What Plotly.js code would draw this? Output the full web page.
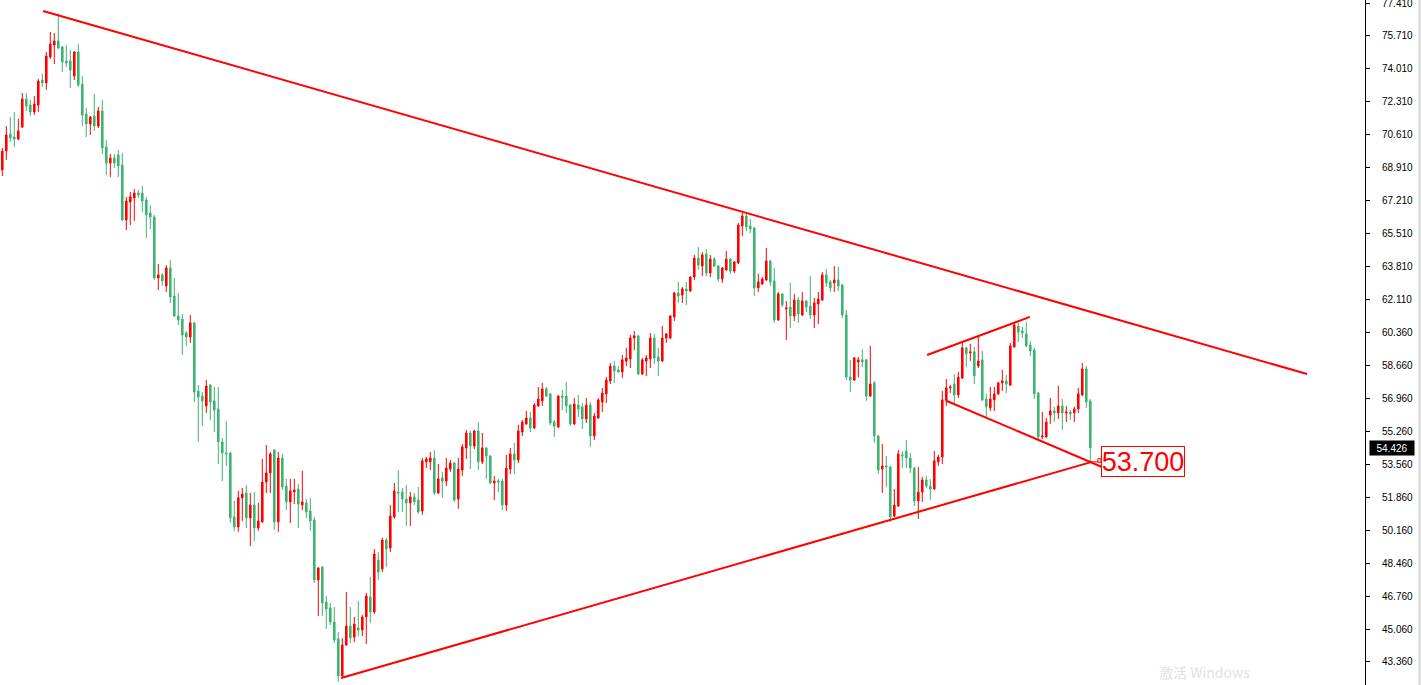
<!DOCTYPE html>
<html>
<head>
<meta charset="utf-8">
<script src="https://cdn.plot.ly/plotly-3.0.1.min.js"></script>
<style>
  html, body { margin: 0; padding: 0; background: #fff; }
  #chart { width: 1421px; height: 685px; }
</style>
</head>
<body>
<div id="chart"></div>
<script>
// Daily OHLC bars, oldest first
const openPrices = [
  68.78,69.76,70.64,70.49,70.38,71.00,72.45,72.14,71.78,72.14,
  73.43,73.28,74.62,75.24,75.45,75.14,74.41,74.41,73.64,74.88,
  73.22,71.67,71.16,71.57,71.05,71.83,69.97,69.14,69.40,69.56,
  69.04,66.20,67.13,67.34,67.59,67.59,67.23,66.56,66.35,63.20,
  63.36,62.79,63.72,62.27,61.24,61.08,60.36,60.15,60.88,57.36,
  57.10,56.59,57.67,56.85,56.43,54.73,54.16,54.16,50.85,50.34,
  51.84,52.09,50.80,51.47,50.28,50.60,52.66,53.13,54.31,50.60,
  53.90,52.45,51.63,52.14,52.30,51.47,51.58,51.16,50.70,47.60,
  48.27,46.46,46.15,45.43,44.55,42.64,44.24,45.22,44.65,45.12,
  45.01,45.69,46.72,45.94,48.63,48.17,49.66,49.25,50.85,52.14,
  52.14,51.78,51.58,51.89,51.73,51.16,53.70,53.70,53.90,52.09,
  52.87,52.71,53.33,53.64,51.78,53.28,54.42,55.19,54.52,55.30,
  53.70,54.42,54.00,52.61,52.71,52.71,51.47,53.33,54.11,53.80,
  55.24,55.66,55.97,55.45,56.59,56.85,57.47,57.21,55.76,55.50,
  57.10,57.10,56.64,55.66,56.64,56.54,55.92,56.64,55.04,55.97,
  56.79,57.21,57.88,58.65,58.45,58.35,58.91,59.02,60.10,60.21,
  58.24,58.91,59.02,60.10,59.12,58.91,60.10,60.10,61.19,62.43,
  62.32,62.63,62.53,63.25,64.23,63.82,64.44,63.46,64.18,63.82,
  63.15,63.62,64.18,63.56,63.98,65.89,66.41,65.89,65.78,62.69,
  62.89,63.10,64.08,63.05,61.03,62.38,61.60,61.70,61.24,62.06,
  61.29,62.01,61.75,61.29,61.86,62.06,63.36,63.00,62.95,63.10,
  62.84,61.29,58.08,57.93,58.86,58.97,58.97,57.10,57.78,55.04,
  53.33,53.49,53.44,50.90,51.42,54.06,54.26,53.90,53.38,51.68,
  52.14,52.76,52.45,52.30,53.70,53.95,56.90,57.52,57.72,57.16,
  58.03,59.59,59.33,59.38,58.65,58.97,56.95,56.49,56.90,57.21,
  57.78,57.88,57.67,59.64,60.72,60.46,60.31,59.74,59.48,57.26,
  54.99,54.99,56.12,56.33,56.23,56.59,56.23,56.28,56.23,56.43,
  57.16,58.50,56.85
];
const highPrices = [
  69.92,71.05,71.52,71.78,71.42,72.76,72.76,72.40,72.60,73.48,
  73.74,74.88,75.91,75.86,76.89,75.19,75.24,74.98,74.93,75.29,
  73.64,71.98,71.57,72.71,72.04,72.40,70.33,69.61,69.61,69.82,
  69.66,67.39,67.65,67.80,67.75,67.96,67.39,66.97,66.46,63.92,
  63.46,63.87,64.13,63.20,62.43,61.34,60.46,61.29,60.93,57.67,
  57.31,57.93,57.72,57.57,57.57,54.93,55.81,54.21,51.68,52.20,
  52.35,52.51,52.09,52.14,51.58,53.85,54.57,54.21,54.36,54.21,
  54.11,52.82,52.82,52.82,52.56,53.23,51.78,51.84,50.85,48.25,
  48.32,46.77,46.41,46.20,44.91,44.60,46.98,46.20,45.69,46.51,
  45.79,46.93,47.75,49.20,49.04,49.77,49.77,51.47,52.61,53.28,
  52.35,52.51,52.14,52.09,52.40,53.90,53.95,54.21,54.31,53.59,
  53.18,53.90,53.80,53.70,53.90,54.62,55.35,55.30,55.35,55.76,
  55.19,54.47,54.06,52.97,52.82,52.82,54.06,54.42,54.68,55.61,
  55.86,56.33,56.28,56.74,57.57,57.78,57.57,57.26,55.86,57.16,
  57.42,57.83,56.69,57.00,57.16,56.74,57.00,56.79,56.23,57.00,
  57.52,58.09,58.81,58.91,58.65,59.22,59.59,60.26,60.46,60.26,
  59.07,59.22,60.36,60.31,59.59,60.72,60.36,61.29,62.48,63.00,
  62.74,63.00,63.30,64.39,64.80,64.54,64.70,64.39,64.28,63.87,
  63.77,64.60,64.23,64.08,66.04,66.56,66.51,66.25,65.84,63.41,
  63.25,64.75,64.13,63.72,62.48,62.43,62.01,62.95,62.38,62.22,
  62.48,62.06,63.30,62.17,62.48,63.51,63.67,63.10,63.82,63.77,
  62.89,61.55,58.97,59.12,59.12,59.53,59.02,59.69,57.88,55.09,
  54.62,54.00,53.49,52.30,54.31,54.26,54.83,54.16,53.44,53.44,
  52.92,52.97,52.82,54.26,54.06,57.36,57.98,57.67,58.24,58.35,
  59.90,59.64,59.79,59.64,60.21,59.43,57.21,57.57,57.57,57.83,
  58.45,58.19,59.84,60.88,60.88,60.67,60.93,59.95,59.59,57.31,
  56.28,55.97,57.00,56.54,57.62,56.95,56.59,56.38,56.54,57.52,
  58.81,58.65,56.95
];
const lowPrices = [
  68.47,69.30,70.23,69.97,70.33,70.95,71.83,71.57,71.62,71.78,
  73.07,72.92,74.52,74.26,75.03,73.85,74.10,73.02,73.43,73.07,
  71.05,70.49,70.59,70.80,70.95,69.61,68.52,68.42,68.89,68.42,
  66.15,65.68,65.94,66.15,67.34,66.61,65.27,65.73,63.10,62.58,
  62.79,62.48,61.91,61.19,60.77,59.22,59.69,59.84,56.79,54.73,
  55.55,56.23,55.86,55.24,53.59,52.71,53.49,50.54,50.13,50.08,
  50.65,50.28,49.35,49.61,50.13,50.54,52.09,52.09,50.18,50.08,
  52.25,51.21,50.54,51.52,50.28,51.21,50.80,50.13,47.44,45.74,
  45.74,45.07,45.27,44.34,42.35,42.53,44.19,44.34,44.39,44.70,
  44.70,44.29,45.38,45.84,47.60,48.01,48.27,49.04,50.75,51.11,
  51.11,50.39,50.39,51.47,51.01,50.96,53.38,53.28,51.99,52.04,
  51.84,52.45,53.18,51.63,51.27,52.97,53.85,53.33,54.36,53.28,
  53.59,52.82,52.56,51.73,52.14,51.21,51.16,53.07,53.07,53.64,
  55.04,55.61,55.24,55.40,56.54,56.59,57.05,55.61,54.99,55.45,
  56.38,56.23,55.55,55.61,56.02,55.40,55.71,54.47,54.83,55.92,
  56.28,56.74,57.72,57.78,58.29,58.03,58.65,58.55,59.48,58.19,
  58.19,58.13,58.55,58.76,58.13,58.86,59.84,60.05,60.98,61.91,
  61.91,61.81,62.48,63.10,63.62,63.30,63.30,63.25,63.77,63.00,
  62.95,63.56,63.41,63.46,63.92,65.37,65.63,65.53,62.27,62.48,
  62.84,63.05,62.79,60.88,60.98,61.70,60.00,60.62,60.98,60.88,
  61.24,61.44,61.08,60.62,60.82,62.01,62.74,62.48,62.48,62.53,
  61.14,57.93,57.31,57.88,58.08,58.60,56.85,57.05,54.68,53.07,
  52.09,52.40,50.60,50.85,51.37,53.38,53.38,53.13,51.42,50.75,
  51.63,52.35,51.73,52.25,53.49,53.59,56.59,57.26,56.74,57.00,
  57.98,58.60,58.91,57.72,58.55,56.85,56.02,56.33,56.33,57.16,
  57.36,57.26,57.62,59.59,59.90,60.10,59.64,59.17,56.95,54.88,
  54.88,54.93,55.66,55.76,55.92,55.35,55.76,55.86,55.76,56.23,
  57.10,56.49,53.70
];
const closePrices = [
  69.76,70.59,70.44,70.38,70.80,72.45,72.09,71.78,72.19,73.38,
  73.28,74.67,75.29,75.45,75.08,74.36,74.31,73.95,74.88,73.17,
  71.62,71.16,71.52,71.05,71.83,69.92,69.14,69.40,69.14,68.99,
  66.20,67.18,67.39,67.59,67.49,67.18,66.46,66.35,63.20,63.36,
  63.05,63.72,62.22,61.24,61.03,60.26,60.15,60.88,57.31,57.05,
  56.85,57.62,56.79,56.38,54.73,54.16,54.11,50.80,50.34,51.84,
  52.04,50.80,51.47,50.28,50.65,52.66,53.13,54.11,50.60,53.90,
  52.40,51.63,52.20,52.25,51.52,51.63,51.11,50.65,47.60,48.22,
  46.41,46.10,45.43,44.50,42.64,44.24,45.22,44.60,45.32,45.01,
  45.69,46.77,45.94,48.94,48.01,49.66,49.20,50.90,52.20,52.09,
  51.78,51.58,51.89,51.63,51.11,53.75,53.85,53.90,52.09,52.82,
  52.71,53.38,53.64,51.73,53.33,54.47,55.19,54.52,55.30,53.70,
  54.42,54.00,52.61,52.71,52.66,51.47,53.38,54.11,53.80,55.30,
  55.76,55.97,55.45,56.64,56.95,57.47,57.10,55.71,55.55,57.10,
  57.05,56.59,55.66,56.69,56.43,55.92,56.64,55.04,56.07,56.90,
  57.26,57.93,58.65,58.40,58.35,58.97,59.07,60.10,60.21,58.24,
  58.97,59.07,60.10,59.07,58.91,60.10,60.31,61.24,62.43,62.27,
  62.63,62.53,63.25,64.23,63.87,64.39,63.46,64.18,63.82,63.15,
  63.72,64.18,63.56,64.03,65.94,66.41,65.84,65.73,62.69,63.00,
  63.15,64.08,63.00,61.03,62.38,61.81,61.65,61.24,62.06,61.34,
  62.01,61.70,61.29,61.91,62.12,63.36,62.95,62.69,63.10,62.79,
  61.29,58.08,57.93,59.07,58.97,58.86,57.10,57.72,55.04,53.28,
  53.49,53.44,50.85,51.47,54.11,54.00,53.90,53.38,51.68,52.14,
  52.76,52.45,52.30,53.75,53.95,56.90,57.52,57.57,57.16,58.08,
  59.59,59.28,59.38,58.14,58.91,56.90,56.54,56.95,57.21,57.78,
  57.88,57.72,59.69,60.77,60.41,60.36,59.69,59.43,57.21,54.99,
  55.04,55.76,56.33,56.23,56.59,56.23,56.28,56.18,56.43,57.21,
  58.50,56.79,54.426
];

// Price scale labels on the right axis
const tickValues = [77.41,75.71,74.01,72.31,70.61,68.91,67.21,65.51,63.81,62.11,60.36,
                    58.66,56.96,55.26,53.56,51.86,50.16,48.46,46.76,45.06,43.36];
const tickLabels = ['77.410','75.710','74.010','72.310','70.610','68.910','67.210','65.510','63.810','62.110','60.360',
                    '58.660','56.960','55.260','53.560','51.860','50.160','48.460','46.760','45.060','43.360'];

// Trend lines: [bar index], [price]
const resistanceBars = [10.2, 326.2],  resistancePrices = [77.00, 58.24];
const supportBars = [84.7, 272.4],     supportPrices = [42.53, 53.70];
const channelTopBars = [231.2, 256.9], channelTopPrices = [59.22, 61.19];
const channelLowBars = [235.85, 280.2], channelLowPrices = [56.87, 52.97];

const lastPrice = 54.426;
const markedPrice = 53.70;
const markedLabel = '53.700';

const barIndex = openPrices.map((_, i) => i);

const RED = '#ff0000';
const GREEN = '#3cb371';

const candles = {
  type: 'candlestick',
  x: barIndex,
  open: openPrices, high: highPrices, low: lowPrices, close: closePrices,
  increasing: { line: { color: RED, width: 1 }, fillcolor: RED },
  decreasing: { line: { color: GREEN, width: 1 }, fillcolor: GREEN },
  whiskerwidth: 0,
  hoverinfo: 'skip',
  showlegend: false
};

function trend(xs, ys) {
  return { type: 'scatter', mode: 'lines', x: xs, y: ys,
           line: { color: RED, width: 2 }, hoverinfo: 'skip', showlegend: false };
}

const traces = [
  candles,
  trend(resistanceBars, resistancePrices),
  trend(supportBars, supportPrices),
  trend(channelTopBars, channelTopPrices),
  trend(channelLowBars, channelLowPrices)
];

const labelBar = 274.7;

const layout = {
  width: 1421, height: 685,
  margin: { l: 0, r: 56, t: 0, b: 0, pad: 0 },
  paper_bgcolor: '#ffffff', plot_bgcolor: '#ffffff',
  boxgap: 0.45,
  showlegend: false,
  xaxis: {
    range: [-0.575, 340.675],
    showgrid: false, zeroline: false, showline: false,
    showticklabels: false, ticks: '',
    rangeslider: { visible: false },
    fixedrange: true
  },
  yaxis: {
    side: 'right',
    range: [42.17, 77.565],
    showgrid: false, zeroline: false,
    showline: true, linecolor: '#000000', linewidth: 1,
    ticks: 'outside', ticklen: 4, tickcolor: '#000000', tickwidth: 1,
    tickmode: 'array', tickvals: tickValues, ticktext: tickLabels,
    tickfont: { family: 'Liberation Sans, Arial, sans-serif', size: 10, color: '#000000' },
    ticklabelstandoff: 10,
    ticklabeloverflow: 'allow',
    fixedrange: true
  },
  shapes: [
    // link from last bar to the price tag
    { type: 'line', xref: 'x', yref: 'y', x0: 272, x1: labelBar, y0: markedPrice, y1: markedPrice,
      line: { color: RED, width: 1 } },
    { type: 'rect', xref: 'x', yref: 'y', x0: 273.9, x1: labelBar, y0: markedPrice - 0.02, y1: markedPrice + 0.16,
      line: { color: RED, width: 1 }, fillcolor: '#ffffff' },
    // window frame on the far right
    { type: 'line', xref: 'paper', yref: 'paper', x0: 1419.5 / 1365, x1: 1419.5 / 1365, y0: 0, y1: 1,
      line: { color: '#d4d4d4', width: 2 } }
  ],
  annotations: [
    { xref: 'paper', yref: 'y', x: 1, y: lastPrice, xanchor: 'left', yanchor: 'middle', xshift: 4,
      text: lastPrice.toFixed(3), showarrow: false,
      font: { family: 'Liberation Sans, Arial, sans-serif', size: 10, color: '#ffffff' },
      bgcolor: '#000000', width: 42, height: 12, borderpad: 1 },
    { xref: 'x', yref: 'y', x: labelBar, y: markedPrice, xanchor: 'left', yanchor: 'middle',
      text: markedLabel, showarrow: false,
      font: { family: 'Liberation Sans, Arial, sans-serif', size: 27, color: RED },
      bgcolor: '#ffffff', bordercolor: RED, borderwidth: 1, borderpad: 0,
      width: 82, height: 29 },
    { xref: 'paper', yref: 'paper', x: 1157 / 1365, y: 0, xanchor: 'left', yanchor: 'bottom', yshift: 1,
      text: '激活 Windows', showarrow: false,
      font: { family: 'Noto Sans CJK SC, sans-serif', size: 14, color: '#e2e2e2' } }
  ]
};

Plotly.newPlot('chart', traces, layout, { staticPlot: true, displayModeBar: false });
</script>
</body>
</html>
